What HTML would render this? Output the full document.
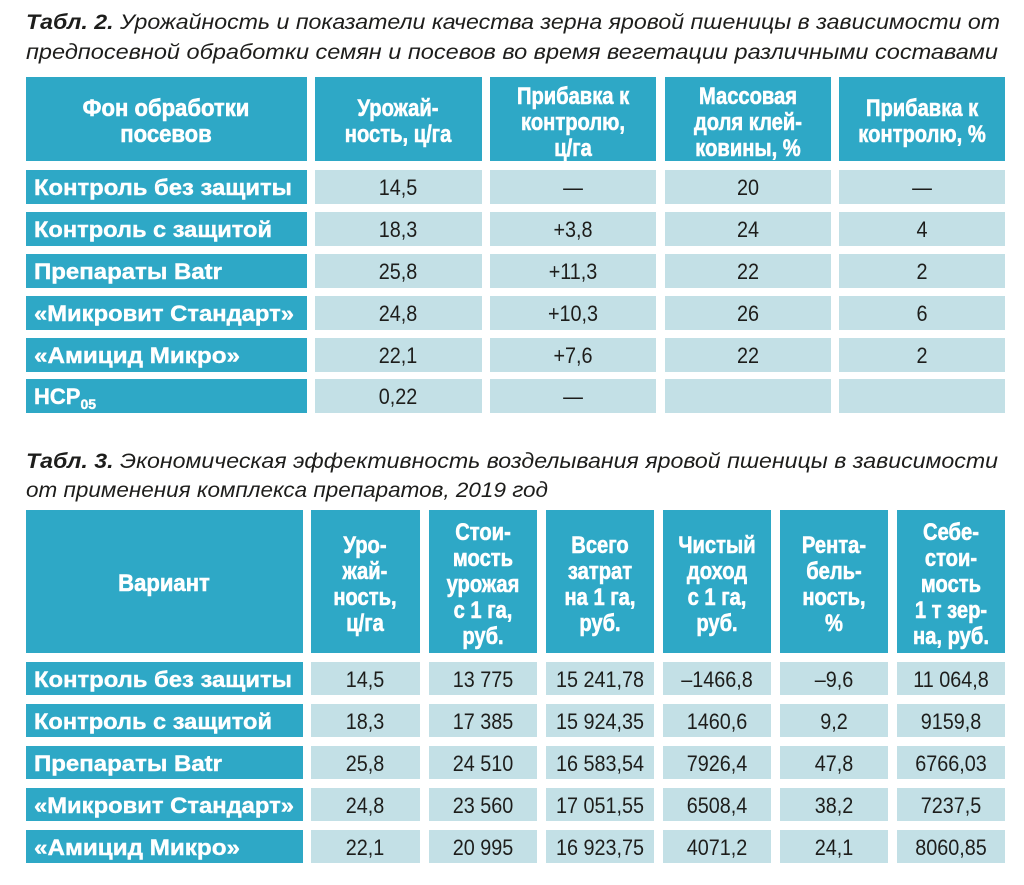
<!DOCTYPE html>
<html><head><meta charset="utf-8"><style>
html,body{margin:0;padding:0;background:#fff;}
svg{display:block;}
.t{font-family:"Liberation Sans","DejaVu Sans",sans-serif;}
.h{font-weight:bold;fill:#fff;stroke:#fff;stroke-width:0.6;font-size:24px;text-anchor:middle;transform-box:fill-box;transform-origin:center;transform:scaleX(0.84);}
.l{font-weight:bold;fill:#fff;stroke:#fff;stroke-width:0.4;font-size:22px;}
.v{fill:#1d1d1b;font-size:22px;text-anchor:middle;}
.v text{transform-box:fill-box;transform-origin:center;transform:scaleX(0.9);}
.ti{font-style:italic;font-size:21px;fill:#1d1d1b;}
</style></head><body>
<svg class="t" width="1024" height="885" viewBox="0 0 1024 885" xmlns="http://www.w3.org/2000/svg">
<rect width="1024" height="885" fill="#fff"/>
<text class="ti" x="26" y="29" textLength="974" lengthAdjust="spacingAndGlyphs"><tspan font-weight="bold">Табл. 2.</tspan> Урожайность и показатели качества зерна яровой пшеницы в зависимости от</text>
<text class="ti" x="26" y="59" textLength="972" lengthAdjust="spacingAndGlyphs">предпосевной обработки семян и посевов во время вегетации различными составами</text>
<text class="ti" x="26" y="468" textLength="972" lengthAdjust="spacingAndGlyphs"><tspan font-weight="bold">Табл. 3.</tspan> Экономическая эффективность возделывания яровой пшеницы в зависимости</text>
<text class="ti" x="26" y="497" textLength="522" lengthAdjust="spacingAndGlyphs">от применения комплекса препаратов, 2019 год</text>

<g fill="#2ea8c6">
<rect x="26" y="77" width="281" height="84"/><rect x="315" y="77" width="167" height="84"/><rect x="490" y="77" width="166" height="84"/><rect x="665" y="77" width="166" height="84"/><rect x="839" y="77" width="166" height="84"/>
<rect x="26" y="170" width="281" height="34"/><rect x="26" y="212" width="281" height="34"/><rect x="26" y="254" width="281" height="34"/><rect x="26" y="296" width="281" height="34"/><rect x="26" y="338" width="281" height="34"/><rect x="26" y="379" width="281" height="34"/>
</g>
<g fill="#c3e0e6">
<rect x="315" y="170" width="167" height="34"/><rect x="490" y="170" width="166" height="34"/><rect x="665" y="170" width="166" height="34"/><rect x="839" y="170" width="166" height="34"/>
<rect x="315" y="212" width="167" height="34"/><rect x="490" y="212" width="166" height="34"/><rect x="665" y="212" width="166" height="34"/><rect x="839" y="212" width="166" height="34"/>
<rect x="315" y="254" width="167" height="34"/><rect x="490" y="254" width="166" height="34"/><rect x="665" y="254" width="166" height="34"/><rect x="839" y="254" width="166" height="34"/>
<rect x="315" y="296" width="167" height="34"/><rect x="490" y="296" width="166" height="34"/><rect x="665" y="296" width="166" height="34"/><rect x="839" y="296" width="166" height="34"/>
<rect x="315" y="338" width="167" height="34"/><rect x="490" y="338" width="166" height="34"/><rect x="665" y="338" width="166" height="34"/><rect x="839" y="338" width="166" height="34"/>
<rect x="315" y="379" width="167" height="34"/><rect x="490" y="379" width="166" height="34"/><rect x="665" y="379" width="166" height="34"/><rect x="839" y="379" width="166" height="34"/>
</g>
<text class="h" x="166" y="116" style="transform:scaleX(0.92)">Фон обработки</text><text class="h" x="166" y="142" style="transform:scaleX(0.92)">посевов</text>
<text class="h" x="398" y="116">Урожай-</text><text class="h" x="398" y="142">ность, ц/га</text>
<text class="h" x="573" y="104">Прибавка к</text><text class="h" x="573" y="130">контролю,</text><text class="h" x="573" y="156">ц/га</text>
<text class="h" x="748" y="104">Массовая</text><text class="h" x="748" y="130">доля клей-</text><text class="h" x="748" y="156">ковины, %</text>
<text class="h" x="922" y="116">Прибавка к</text><text class="h" x="922" y="142">контролю, %</text>

<text class="l" x="34" y="195" textLength="258" lengthAdjust="spacingAndGlyphs">Контроль без защиты</text>
<text class="l" x="34" y="237" textLength="238" lengthAdjust="spacingAndGlyphs">Контроль с защитой</text>
<text class="l" x="34" y="279" textLength="188" lengthAdjust="spacingAndGlyphs">Препараты Batr</text>
<text class="l" x="34" y="321" textLength="260" lengthAdjust="spacingAndGlyphs">«Микровит Стандарт»</text>
<text class="l" x="34" y="363" textLength="206" lengthAdjust="spacingAndGlyphs">«Амицид Микро»</text>
<text class="l" x="34" y="404">НСР<tspan font-size="14" dy="5">05</tspan></text>

<g class="v">
<text x="398" y="195">14,5</text><text x="573" y="195">—</text><text x="748" y="195">20</text><text x="922" y="195">—</text>
<text x="398" y="237">18,3</text><text x="573" y="237">+3,8</text><text x="748" y="237">24</text><text x="922" y="237">4</text>
<text x="398" y="279">25,8</text><text x="573" y="279">+11,3</text><text x="748" y="279">22</text><text x="922" y="279">2</text>
<text x="398" y="321">24,8</text><text x="573" y="321">+10,3</text><text x="748" y="321">26</text><text x="922" y="321">6</text>
<text x="398" y="363">22,1</text><text x="573" y="363">+7,6</text><text x="748" y="363">22</text><text x="922" y="363">2</text>
<text x="398" y="404">0,22</text><text x="573" y="404">—</text>
</g>

<g fill="#2ea8c6">
<rect x="26" y="510" width="277" height="143"/><rect x="311" y="510" width="109" height="143"/><rect x="429" y="510" width="108" height="143"/><rect x="546" y="510" width="108" height="143"/><rect x="663" y="510" width="108" height="143"/><rect x="780" y="510" width="108" height="143"/><rect x="897" y="510" width="108" height="143"/>
<rect x="26" y="662" width="277" height="33"/><rect x="26" y="704" width="277" height="33"/><rect x="26" y="746" width="277" height="33"/><rect x="26" y="788" width="277" height="33"/><rect x="26" y="830" width="277" height="33"/>
</g>
<g fill="#c3e0e6">
<rect x="311" y="662" width="109" height="33"/><rect x="429" y="662" width="108" height="33"/><rect x="546" y="662" width="108" height="33"/><rect x="663" y="662" width="108" height="33"/><rect x="780" y="662" width="108" height="33"/><rect x="897" y="662" width="108" height="33"/>
<rect x="311" y="704" width="109" height="33"/><rect x="429" y="704" width="108" height="33"/><rect x="546" y="704" width="108" height="33"/><rect x="663" y="704" width="108" height="33"/><rect x="780" y="704" width="108" height="33"/><rect x="897" y="704" width="108" height="33"/>
<rect x="311" y="746" width="109" height="33"/><rect x="429" y="746" width="108" height="33"/><rect x="546" y="746" width="108" height="33"/><rect x="663" y="746" width="108" height="33"/><rect x="780" y="746" width="108" height="33"/><rect x="897" y="746" width="108" height="33"/>
<rect x="311" y="788" width="109" height="33"/><rect x="429" y="788" width="108" height="33"/><rect x="546" y="788" width="108" height="33"/><rect x="663" y="788" width="108" height="33"/><rect x="780" y="788" width="108" height="33"/><rect x="897" y="788" width="108" height="33"/>
<rect x="311" y="830" width="109" height="33"/><rect x="429" y="830" width="108" height="33"/><rect x="546" y="830" width="108" height="33"/><rect x="663" y="830" width="108" height="33"/><rect x="780" y="830" width="108" height="33"/><rect x="897" y="830" width="108" height="33"/>
</g>
<text class="h" x="164" y="591" style="transform:scaleX(0.92)">Вариант</text>
<text class="h" x="365" y="553">Уро-</text><text class="h" x="365" y="579">жай-</text><text class="h" x="365" y="605">ность,</text><text class="h" x="365" y="631">ц/га</text>
<text class="h" x="483" y="540">Стои-</text><text class="h" x="483" y="566">мость</text><text class="h" x="483" y="592">урожая</text><text class="h" x="483" y="618">с 1 га,</text><text class="h" x="483" y="644">руб.</text>
<text class="h" x="600" y="553">Всего</text><text class="h" x="600" y="579">затрат</text><text class="h" x="600" y="605">на 1 га,</text><text class="h" x="600" y="631">руб.</text>
<text class="h" x="717" y="553">Чистый</text><text class="h" x="717" y="579">доход</text><text class="h" x="717" y="605">с 1 га,</text><text class="h" x="717" y="631">руб.</text>
<text class="h" x="834" y="553">Рента-</text><text class="h" x="834" y="579">бель-</text><text class="h" x="834" y="605">ность,</text><text class="h" x="834" y="631">%</text>
<text class="h" x="951" y="540">Себе-</text><text class="h" x="951" y="566">стои-</text><text class="h" x="951" y="592">мость</text><text class="h" x="951" y="618">1 т зер-</text><text class="h" x="951" y="644">на, руб.</text>

<text class="l" x="34" y="687" textLength="258" lengthAdjust="spacingAndGlyphs">Контроль без защиты</text>
<text class="l" x="34" y="729" textLength="238" lengthAdjust="spacingAndGlyphs">Контроль с защитой</text>
<text class="l" x="34" y="771" textLength="188" lengthAdjust="spacingAndGlyphs">Препараты Batr</text>
<text class="l" x="34" y="813" textLength="260" lengthAdjust="spacingAndGlyphs">«Микровит Стандарт»</text>
<text class="l" x="34" y="855" textLength="206" lengthAdjust="spacingAndGlyphs">«Амицид Микро»</text>
<g class="v">
<text x="365" y="687">14,5</text><text x="483" y="687">13 775</text><text x="600" y="687">15 241,78</text><text x="717" y="687">–1466,8</text><text x="834" y="687">–9,6</text><text x="951" y="687">11 064,8</text>
<text x="365" y="729">18,3</text><text x="483" y="729">17 385</text><text x="600" y="729">15 924,35</text><text x="717" y="729">1460,6</text><text x="834" y="729">9,2</text><text x="951" y="729">9159,8</text>
<text x="365" y="771">25,8</text><text x="483" y="771">24 510</text><text x="600" y="771">16 583,54</text><text x="717" y="771">7926,4</text><text x="834" y="771">47,8</text><text x="951" y="771">6766,03</text>
<text x="365" y="813">24,8</text><text x="483" y="813">23 560</text><text x="600" y="813">17 051,55</text><text x="717" y="813">6508,4</text><text x="834" y="813">38,2</text><text x="951" y="813">7237,5</text>
<text x="365" y="855">22,1</text><text x="483" y="855">20 995</text><text x="600" y="855">16 923,75</text><text x="717" y="855">4071,2</text><text x="834" y="855">24,1</text><text x="951" y="855">8060,85</text>
</g>
</svg>
</body></html>
